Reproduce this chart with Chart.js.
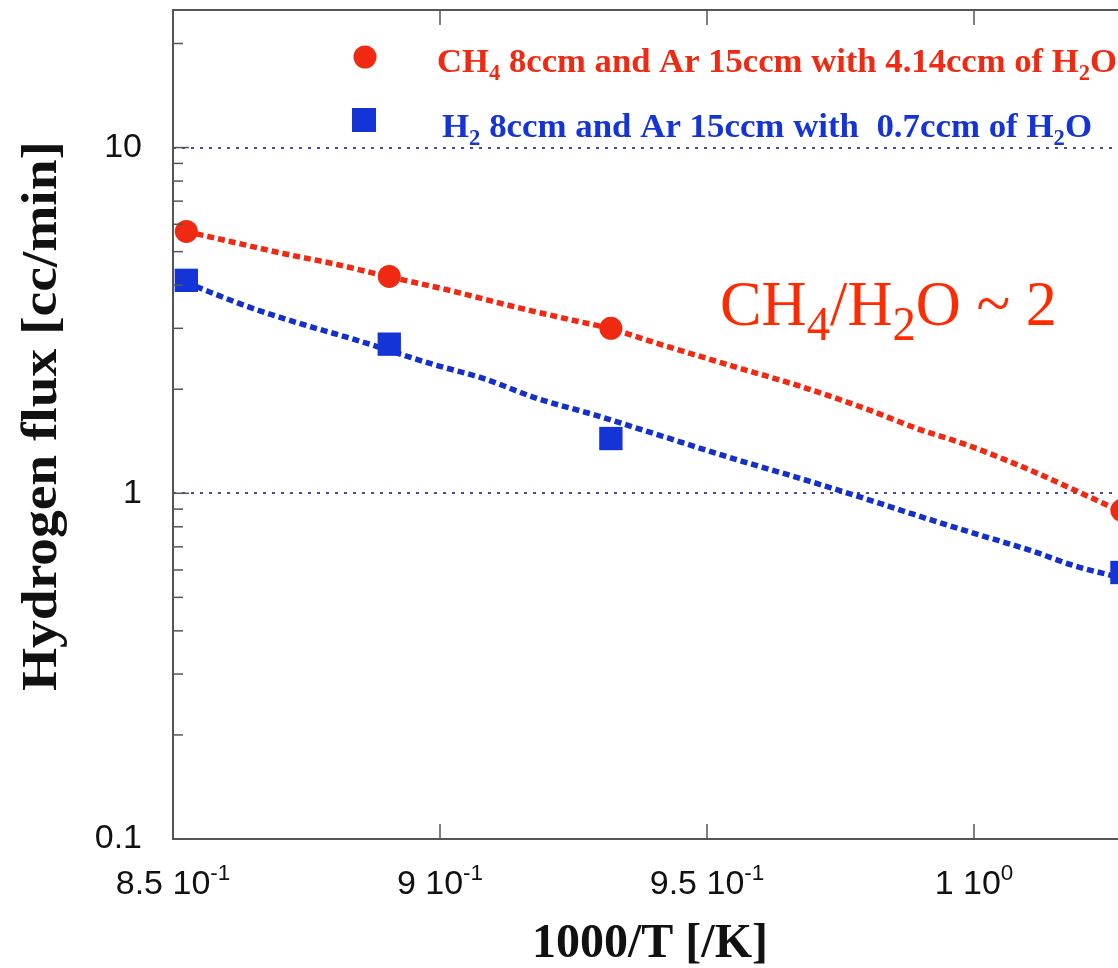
<!DOCTYPE html>
<html>
<head>
<meta charset="utf-8">
<script src="https://cdn.jsdelivr.net/npm/chart.js@4.4.1/dist/chart.umd.min.js"></script>
<style>
  html, body { margin: 0; padding: 0; background: #fff; overflow: hidden; }
  canvas { display: block; }
</style>
</head>
<body>
<canvas id="chart" width="1300" height="968"></canvas>
<script>
// measured points, x = 1000/T
const tempX = [0.8525, 0.8905, 0.9320, 1.0277];
const ch4Flux = [5.72, 4.24, 3.00, 0.893];
const h2Flux = [4.13, 2.70, 1.44, 0.59];

// fitted curves
const ch4FitX = [0.8524, 0.8607, 0.8706, 0.8807, 0.8901, 0.9019, 0.9144, 0.9243, 0.9316,
  0.9425, 0.9549, 0.9674, 0.9800, 0.9893, 0.9987, 1.0110, 1.0185, 1.0270];
const ch4FitY = [5.72, 5.35, 4.94, 4.59, 4.24, 3.86, 3.45, 3.18, 3.00,
  2.66, 2.33, 2.04, 1.75, 1.54, 1.38, 1.158, 1.027, 0.893];
const h2FitX = [0.8524, 0.8644, 0.8743, 0.8845, 0.8987, 0.9081, 0.9182, 0.9287, 0.9388,
  0.9549, 0.9674, 0.9800, 0.9886, 0.9987, 1.0110, 1.0185, 1.0270];
const h2FitY = [4.07, 3.45, 3.08, 2.77, 2.36, 2.15, 1.88, 1.69, 1.51,
  1.26, 1.105, 0.961, 0.870, 0.777, 0.680, 0.619, 0.572];

// axes
const xTickValues = [0.85, 0.9, 0.95, 1.0, 1.05];
const xTickMantissa = ["8.5", "9", "9.5", "1", "1.05"];
const xTickExponent = ["-1", "-1", "-1", "0", "0"];
const yMajorTicks = [0.1, 1, 10];
const yMajorLabels = ["0.1", "1", "10"];
const yMinorTicks = [0.2, 0.3, 0.4, 0.5, 0.6, 0.7, 0.8, 0.9, 2, 3, 4, 5, 6, 7, 8, 9, 20];
const yGridAt = [1, 10];

const RED = "#f02a12";
const BLUE = "#1434d8";
const BLUE_LINE = "#1430c8";
const AXIS = "#555555";
const SERIF = "'Liberation Serif', 'Times New Roman', serif";
const SANS = "'Liberation Sans', Arial, sans-serif";

const pairs = (xs, ys) => xs.map((x, i) => ({ x, y: ys[i] }));

// text with sub/superscript runs: parts = [[text, "" | "sub" | "sup"], ...]
function drawRich(ctx, parts, x, y, opt) {
  const size = opt.size;
  const subSize = size * (opt.subRatio || 0.65);
  const fontFor = (mode) => `${opt.weight || "normal"} ${mode ? subSize : size}px ${opt.family}`;
  let width = 0;
  parts.forEach(([t, mode]) => { ctx.font = fontFor(mode); width += ctx.measureText(t).width; });
  const sx = opt.width ? opt.width / width : 1;
  let start = x;
  if (opt.align === "center") start = x - (width * sx) / 2;
  else if (opt.align === "right") start = x - width * sx;
  ctx.save();
  ctx.translate(start, y);
  ctx.scale(sx, 1);
  ctx.fillStyle = opt.color;
  ctx.textBaseline = "alphabetic";
  ctx.textAlign = "left";
  let cx = 0;
  parts.forEach(([t, mode]) => {
    ctx.font = fontFor(mode);
    const dy = mode === "sub" ? size * 0.24 : mode === "sup" ? -size * 0.42 : 0;
    ctx.fillText(t, cx, dy);
    cx += ctx.measureText(t).width;
  });
  ctx.restore();
}

const framePlugin = {
  id: "frame",
  afterDraw(chart) {
    const { ctx, chartArea: a, scales: { x, y } } = chart;
    ctx.save();
    ctx.strokeStyle = AXIS;
    ctx.lineWidth = 2;
    ctx.strokeRect(a.left, a.top, a.right - a.left, a.bottom - a.top);

    const seg = (x1, y1, x2, y2) => { ctx.beginPath(); ctx.moveTo(x1, y1); ctx.lineTo(x2, y2); ctx.stroke(); };
    ctx.lineWidth = 1.5;
    x.ticks.forEach((t) => {
      const px = x.getPixelForValue(t.value);
      seg(px, a.bottom, px, a.bottom - 15);
      seg(px, a.top, px, a.top + 15);
    });
    y.ticks.forEach((t) => {
      const py = y.getPixelForValue(t.value);
      const len = yMajorTicks.includes(t.value) ? 16 : 10;
      seg(a.left, py, a.left + len, py);
      seg(a.right, py, a.right - len, py);
    });

    // y tick labels
    ctx.fillStyle = "#111";
    ctx.font = `34px ${SANS}`;
    ctx.textAlign = "right";
    ctx.textBaseline = "middle";
    yMajorTicks.forEach((v, i) => ctx.fillText(yMajorLabels[i], a.left - 31, y.getPixelForValue(v)));

    // x tick labels as mantissa 10^exp
    xTickValues.forEach((v, i) => {
      drawRich(ctx, [[xTickMantissa[i] + " 10", ""], [xTickExponent[i], "sup"]],
        x.getPixelForValue(v), a.bottom + 55,
        { size: 34, family: SANS, color: "#111", align: "center", subRatio: 0.66 });
    });

    // axis titles
    ctx.fillStyle = "#111";
    ctx.font = `bold 48px ${SERIF}`;
    ctx.textAlign = "center";
    ctx.textBaseline = "alphabetic";
    ctx.fillText("1000/T [/K]", 650, 957);
    ctx.save();
    ctx.translate(56, 416);
    ctx.rotate(-Math.PI / 2);
    drawRich(ctx, [["Hydrogen flux [cc/min]", ""]], 0, 0,
      { size: 50, weight: "bold", family: SERIF, color: "#111", align: "center", width: 550 });
    ctx.restore();

    // legend
    ctx.fillStyle = RED;
    ctx.beginPath();
    ctx.arc(365, 57, 11.5, 0, Math.PI * 2);
    ctx.fill();
    ctx.fillStyle = BLUE;
    ctx.fillRect(352, 108, 24, 24);
    drawRich(ctx, [["CH", ""], ["4", "sub"], [" 8ccm and Ar 15ccm with 4.14ccm of H", ""], ["2", "sub"], ["O", ""]],
      437, 72, { size: 34, weight: "bold", family: SERIF, color: RED, width: 680 });
    drawRich(ctx, [["H", ""], ["2", "sub"], [" 8ccm and Ar 15ccm with  0.7ccm of H", ""], ["2", "sub"], ["O", ""]],
      442, 137, { size: 34, weight: "bold", family: SERIF, color: BLUE, width: 650 });

    // ratio note
    drawRich(ctx, [["CH", ""], ["4", "sub"], ["/H", ""], ["2", "sub"], ["O ~ 2", ""]],
      720, 325, { size: 64, family: SERIF, color: "#ff2a00", subRatio: 0.75, width: 337 });
    ctx.restore();
  }
};

new Chart(document.getElementById("chart"), {
  type: "scatter",
  data: {
    datasets: [
      {
        label: "CH4 8ccm and Ar 15ccm with 4.14ccm of H2O",
        data: pairs(tempX, ch4Flux),
        pointStyle: "circle",
        pointRadius: 11.5,
        backgroundColor: RED,
        borderWidth: 0,
      },
      {
        label: "H2 8ccm and Ar 15ccm with 0.7ccm of H2O",
        data: pairs(tempX, h2Flux),
        pointStyle: "rect",
        pointRadius: 16.5,
        backgroundColor: BLUE,
        borderWidth: 0,
      },
      {
        label: "CH4 fit",
        data: pairs(ch4FitX, ch4FitY),
        showLine: true,
        pointRadius: 0,
        borderColor: RED,
        borderWidth: 5.5,
        borderDash: [7, 4],
        borderCapStyle: "butt",
        cubicInterpolationMode: "monotone",
      },
      {
        label: "H2 fit",
        data: pairs(h2FitX, h2FitY),
        showLine: true,
        pointRadius: 0,
        borderColor: BLUE_LINE,
        borderWidth: 5.5,
        borderDash: [7, 4],
        borderCapStyle: "butt",
        cubicInterpolationMode: "monotone",
      },
    ],
  },
  options: {
    responsive: false,
    devicePixelRatio: 1,
    animation: false,
    layout: { autoPadding: false, padding: { left: 173, top: 10, right: 59, bottom: 129 } },
    plugins: { legend: { display: false }, tooltip: { enabled: false } },
    scales: {
      x: {
        type: "linear",
        min: 0.85,
        max: 1.05,
        afterBuildTicks: (scale) => { scale.ticks = xTickValues.map((value) => ({ value })); },
        ticks: { display: false },
        grid: { display: false, drawTicks: false },
        border: { display: false },
      },
      y: {
        type: "logarithmic",
        min: 0.1,
        max: 25,
        afterBuildTicks: (scale) => {
          scale.ticks = [...yMajorTicks, ...yMinorTicks].sort((p, q) => p - q).map((value) => ({ value }));
        },
        ticks: { display: false },
        grid: {
          drawTicks: false,
          color: (c) => (c.tick && yGridAt.includes(c.tick.value) ? "#48489c" : "rgba(0,0,0,0)"),
          lineWidth: 2,
        },
        border: { display: false, dash: [3, 6] },
      },
    },
  },
  plugins: [framePlugin],
});
</script>
</body>
</html>
